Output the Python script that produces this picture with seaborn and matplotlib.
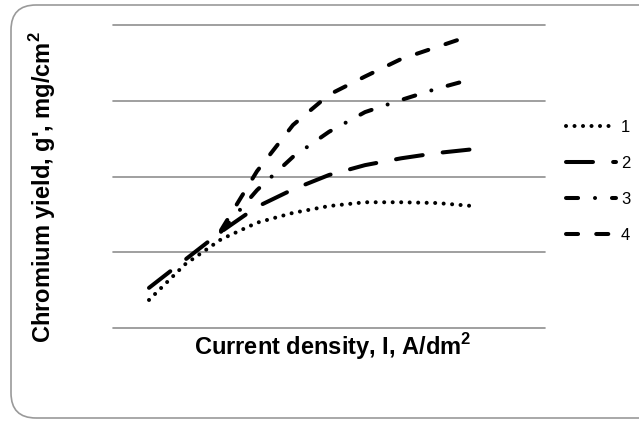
import matplotlib
matplotlib.use("Agg")
import matplotlib.pyplot as plt
import matplotlib.transforms as mtransforms
from matplotlib.patches import FancyBboxPatch
import seaborn as sns

# values (y in grid units, x in A/dm2-ish units)
x_12 = [5, 10, 15, 20, 25, 30, 35, 40, 45, 50]
x_34 = [15, 20, 25, 30, 35, 40, 45, 50]
curve_1 = [0.37, 0.84, 1.17, 1.39, 1.52, 1.61, 1.66, 1.66, 1.65, 1.61]
curve_2 = [0.53, 0.90, 1.27, 1.60, 1.83, 2.02, 2.15, 2.24, 2.31, 2.36]
curve_3 = [1.27, 1.82, 2.26, 2.59, 2.85, 3.01, 3.16, 3.29]
curve_4 = [1.29, 2.07, 2.68, 3.08, 3.32, 3.55, 3.71, 3.87]
labels = ["1", "2", "3", "4"]

sns.set_style("white")
plt.rcParams["font.family"] = ["Liberation Sans", "DejaVu Sans"]
plt.rcParams["mathtext.fontset"] = "custom"
plt.rcParams["mathtext.bf"] = "Liberation Sans:bold"
plt.rcParams["mathtext.rm"] = "Liberation Sans:bold"
plt.rcParams["text.color"] = "black"

fig = plt.figure(figsize=(6.39, 4.21), dpi=100)
ax = fig.add_axes([113 / 639, 1 - 328 / 421, 432 / 639, 303 / 421])

styles = [
    (0, (0.01, 2.1)),
    (0, (6.7, 5.0)),
    (0, (3.0, 4.2, 0.01, 4.2)),
    (0, (3.0, 4.5)),
]
xs = [x_12, x_12, x_34, x_34]
ys = [curve_1, curve_2, curve_3, curve_4]

for x, y, ls, lab in zip(xs, ys, styles, labels):
    sns.lineplot(x=x, y=y, ax=ax, color="black", lw=2.9, linestyle=ls,
                 dash_capstyle="round", solid_capstyle="round", label=lab)

ax.set_xlim(0, 60)
ax.set_ylim(0, 4)
ax.set_yticks([0, 1, 2, 3, 4])
ax.set_xticks([])
ax.tick_params(length=0, labelleft=False, labelbottom=False)
ax.grid(axis="y", color="#8f8f8f", lw=1.2)
for gl in ax.get_ygridlines():
    gl.set_clip_on(False)
sns.despine(ax=ax, left=True, bottom=True)
ax.set_xlabel("")
ax.set_ylabel("")

fig.text(43 / 639, 1 - 187 / 421, "Chromium yield, g', mg/cm$^{\\mathbf{2}}$",
         rotation=90, ha="center", va="center", fontsize=17,
         fontweight="bold", color="black")
fig.text(333 / 639, 1 - 347 / 421, "Current density, I, A/dm$^{\\mathbf{2}}$",
         ha="center", va="center", fontsize=17, fontweight="bold",
         color="black")

leg = ax.legend(loc="center left", bbox_to_anchor=(566 / 639, 1 - 181.5 / 421),
                bbox_transform=fig.transFigure, frameon=False, fontsize=12,
                handlelength=3.0, handletextpad=0.3, labelspacing=1.27,
                borderpad=0, borderaxespad=0)
for t in leg.get_texts():
    t.set_color("black")

border = FancyBboxPatch((11, 3), 700, 413,
                        boxstyle="round,pad=0,rounding_size=25",
                        transform=mtransforms.IdentityTransform(),
                        facecolor="none", edgecolor="#9a9a9a", lw=1.2)
fig.add_artist(border)

fig.savefig("out.png", dpi=100)
